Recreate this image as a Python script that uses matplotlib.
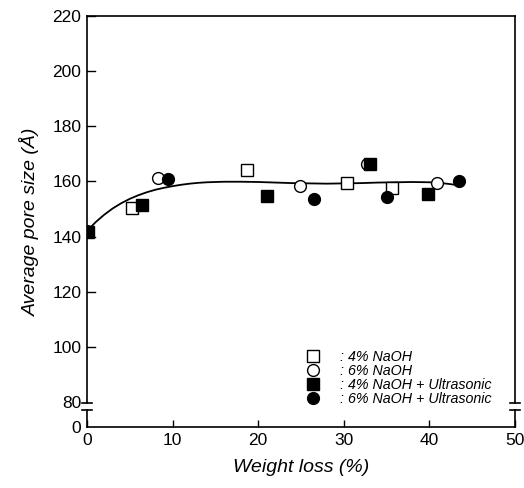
import matplotlib.pyplot as plt
import numpy as np

plt.rcParams['font.family'] = ['Liberation Sans', 'DejaVu Sans']

# data
sq_open_x = [5.3, 18.7, 30.4, 35.6]
sq_open_y = [150.2, 164.0, 159.3, 157.8]
ci_open_x = [8.3, 24.9, 32.7, 40.9]
ci_open_y = [161.4, 158.2, 166.5, 159.6]
sq_fill_x = [0.1, 6.4, 21.0, 33.1, 39.8]
sq_fill_y = [141.8, 151.3, 154.6, 166.5, 155.6]
ci_fill_x = [0.0, 9.5, 26.5, 35.0, 43.4]
ci_fill_y = [142.0, 161.0, 153.8, 154.5, 160.0]

fit_x = [0, 1, 2, 3, 4, 5, 6, 7, 8, 9, 10, 11, 12, 13, 14, 16, 18, 20,
         22, 24, 26, 28, 30, 32, 34, 36, 38, 40, 41, 42, 43, 43.5]
fit_y = [142.0, 145.2, 147.9, 150.2, 152.1, 153.7, 155.0, 156.1, 157.0,
         157.7, 158.3, 158.8, 159.2, 159.5, 159.7, 159.9, 159.9, 159.8,
         159.6, 159.4, 159.3, 159.2, 159.3, 159.4, 159.6, 159.7, 159.8,
         159.7, 159.5, 159.2, 158.8, 158.6]

y_zero = 70.9  # where "0" sits below the break
ytick_vals = [y_zero, 80, 100, 120, 140, 160, 180, 200, 220]
ytick_labels = ['0', '80', '100', '120', '140', '160', '180', '200', '220']
xtick_vals = [0, 10, 20, 30, 40, 50]

fig = plt.figure(figsize=(5.24, 4.88), dpi=100)
ax = fig.add_axes([0.166, 0.125, 0.817, 0.842])

ax.plot(fit_x, fit_y, 'k-', lw=1.3, zorder=2)
ms = 8
ax.plot(sq_open_x, sq_open_y, 's', ms=ms, mfc='white', mec='k', mew=1, ls='none',
        label=': 4% NaOH', zorder=3)
ax.plot(ci_open_x, ci_open_y, 'o', ms=ms + 0.5, mfc='white', mec='k', mew=1, ls='none',
        label=': 6% NaOH', zorder=3)
ax.plot(sq_fill_x, sq_fill_y, 's', ms=ms, mfc='k', mec='k', ls='none',
        label=': 4% NaOH + Ultrasonic', zorder=4)
ax.plot(ci_fill_x, ci_fill_y, 'o', ms=ms + 0.5, mfc='k', mec='k', ls='none',
        label=': 6% NaOH + Ultrasonic', zorder=4)

ax.set_xlim(0, 50)
ax.set_ylim(y_zero, 220)
ax.set_xticks(xtick_vals)
ax.set_yticks(ytick_vals)
ax.set_yticklabels(ytick_labels)
ax.tick_params(direction='in', length=5, width=1, labelsize=12.5, pad=4)
ax.tick_params(axis='y', left=False)
for v in ytick_vals[2:]:
    ax.plot([0, 0.9], [v, v], 'k-', lw=1, clip_on=False, zorder=5)

# broken left/right spines
ax.spines['left'].set_visible(False)
ax.spines['right'].set_visible(False)
ax.spines['top'].set_linewidth(1.2)
ax.spines['bottom'].set_linewidth(1.2)
b_hi, b_lo = 0.058, 0.042
for xs in (0, 1):
    ax.plot([xs, xs], [b_hi, 1], 'k-', lw=1.2, transform=ax.transAxes, clip_on=False)
    ax.plot([xs, xs], [0, b_lo], 'k-', lw=1.2, transform=ax.transAxes, clip_on=False)
    for yb in (b_hi, b_lo):
        ax.plot([xs - 0.012, xs + 0.012], [yb, yb], 'k-', lw=1.2,
                transform=ax.transAxes, clip_on=False)

ax.set_xlabel('Weight loss (%)', fontsize=14, style='italic', labelpad=8)
ax.set_ylabel('Average pore size (Å)', fontsize=14, style='italic', labelpad=9)

leg = ax.legend(loc='lower left', bbox_to_anchor=(0.497, 0.038), frameon=False,
                prop={'style': 'italic', 'size': 10.3}, handletextpad=1.4,
                labelspacing=0.0, borderaxespad=0, handlelength=1.0)

fig.savefig('out.png', dpi=100)
